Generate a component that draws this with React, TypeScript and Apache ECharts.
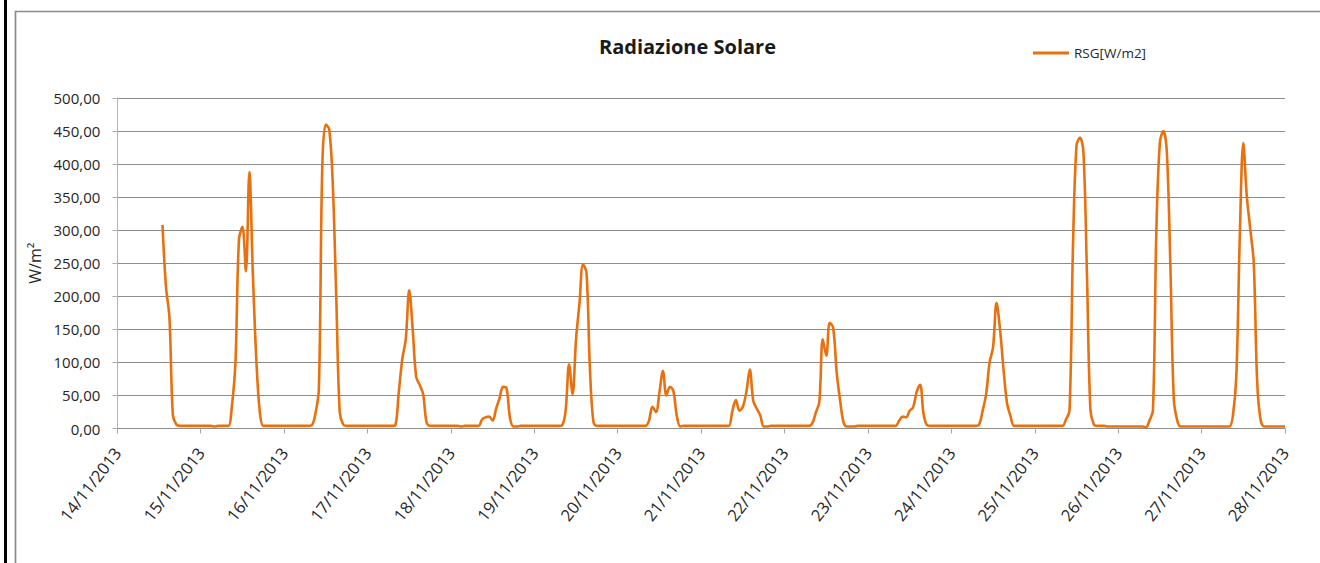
import React, { useEffect, useRef } from "react";
import * as echarts from "echarts";

// Tick labels (one per day, 00:00)
const dateLabels = [
  "14/11/2013", "15/11/2013", "16/11/2013", "17/11/2013", "18/11/2013",
  "19/11/2013", "20/11/2013", "21/11/2013", "22/11/2013", "23/11/2013",
  "24/11/2013", "25/11/2013", "26/11/2013", "27/11/2013", "28/11/2013",
];

// Hourly RSG [W/m2] values, hour 0..23 of each day (null = no data)
const rsg14 = [null, null, null, null, null, null, null, null, null, null, null, null, null,
  308, 215, 168, 20, 6, 4, 4, 4, 4, 4, 4];
const rsg15 = [4, 4, 4, 4, 3, 4, 4, 4, 4, 35, 100, 285, 305, 238, 388, 235, 105, 25, 4, 4, 4, 4, 4, 4];
const rsg16 = [4, 4, 4, 4, 4, 4, 4, 4, 5, 22, 60, 400, 460, 452, 370, 200, 25, 6, 4, 4, 4, 4, 4, 4];
const rsg17 = [4, 4, 4, 4, 4, 4, 4, 4, 5, 55, 105, 135, 209, 150, 78, 66, 52, 9, 4, 4, 4, 4, 4, 4];
const rsg18 = [4, 4, 4, 3, 4, 4, 4, 4, 4, 14, 17, 18, 12, 30, 46, 63, 61, 16, 3, 3, 4, 4, 4, 4];
const rsg19 = [4, 4, 4, 4, 4, 4, 4, 4, 5, 27, 97, 52, 135, 190, 248, 236, 90, 10, 4, 4, 4, 4, 4, 4];
const rsg20 = [4, 4, 4, 4, 4, 4, 4, 4, 4, 12, 33, 25, 55, 87, 50, 63, 57, 19, 3, 4, 4, 4, 4, 4];
const rsg21 = [4, 4, 4, 4, 4, 4, 4, 4, 4, 27, 43, 27, 33, 55, 89, 42, 30, 20, 3, 3, 4, 4, 4, 4];
const rsg22 = [4, 4, 4, 4, 4, 4, 4, 4, 8, 24, 40, 135, 110, 160, 152, 85, 42, 9, 3, 3, 3, 4, 4, 4];
const rsg23 = [4, 4, 4, 4, 4, 4, 4, 4, 4, 12, 18, 17, 27, 32, 55, 66, 22, 5, 4, 4, 4, 4, 4, 4];
const rsg24 = [4, 4, 4, 4, 4, 4, 4, 4, 6, 27, 52, 100, 123, 190, 150, 90, 39, 19, 4, 4, 4, 4, 4, 4];
const rsg25 = [4, 4, 4, 4, 4, 4, 4, 4, 4, 14, 27, 277, 428, 440, 418, 236, 29, 6, 4, 4, 4, 3, 3, 3];
const rsg26 = [3, 3, 3, 3, 3, 3, 3, 3, 2, 12, 27, 302, 433, 450, 418, 250, 45, 12, 3, 3, 3, 3, 3, 3];
const rsg27 = [3, 3, 3, 3, 3, 3, 3, 3, 3, 19, 80, 292, 432, 352, 302, 251, 70, 12, 3, 3, 3, 3, 3, 3];
const rsg28 = [3];

const days = [rsg14, rsg15, rsg16, rsg17, rsg18, rsg19, rsg20, rsg21, rsg22, rsg23, rsg24, rsg25, rsg26, rsg27, rsg28];

const seriesName = "RSG[W/m2]";
const titleText = "Radiazione Solare";
const yAxisName = "W/m\u00B2";

export default function App() {
  const ref = useRef<HTMLDivElement>(null);

  useEffect(() => {
    if (!ref.current) return;
    const chart = echarts.init(ref.current, null, { renderer: "svg" });

    const data: [number, number][] = [];
    days.forEach((arr, d) => {
      arr.forEach((v, h) => {
        if (v !== null && v !== undefined) data.push([d * 24 + h, v as number]);
      });
    });

    const fontFamily = "'Open Sans', sans-serif";

    chart.setOption({
      animation: false,
      backgroundColor: "#ffffff",
      textStyle: { fontFamily },
      title: {
        text: titleText,
        left: 594,
        top: 31,
        textStyle: { fontFamily, fontSize: 20, fontWeight: "bold", color: "#1a1a1a" },
      },
      legend: {
        data: [seriesName],
        left: 1028,
        top: 41,
        icon: "rect",
        itemWidth: 36,
        itemHeight: 3,
        textStyle: { fontFamily, fontSize: 13.5, color: "#262626" },
      },
      grid: { left: 117.3, right: 35, top: 98, bottom: 134.5, containLabel: false },
      xAxis: {
        type: "value",
        min: 0,
        max: 336,
        interval: 24,
        axisLine: { show: true, lineStyle: { color: "#8c8c8c", width: 1 } },
        axisTick: { show: true, length: 5, lineStyle: { color: "#a6a6a6" } },
        splitLine: { show: false },
        axisLabel: {
          rotate: 52,
          margin: 21,
          fontSize: 16.5,
          color: "#262626",
          fontFamily,
          showMinLabel: true,
          showMaxLabel: true,
          formatter: (v: number) => dateLabels[Math.round(v / 24)] ?? "",
        },
      },
      yAxis: {
        type: "value",
        min: 0,
        max: 500,
        interval: 50,
        name: yAxisName,
        nameLocation: "middle",
        nameGap: 68,
        nameTextStyle: { fontFamily, fontSize: 16, color: "#262626" },
        axisLine: { show: true, lineStyle: { color: "#b3b3b3" } },
        axisTick: { show: true, length: 5, lineStyle: { color: "#b3b3b3" } },
        splitLine: { show: true, lineStyle: { color: "#8c8c8c", width: 1 } },
        axisLabel: {
          margin: 17,
          fontSize: 15,
          color: "#262626",
          fontFamily,
          formatter: (v: number) => v.toFixed(2).replace(".", ","),
        },
      },
      series: [
        {
          name: seriesName,
          type: "line",
          data,
          smooth: 0.35,
          showSymbol: false,
          symbol: "none",
          lineStyle: { color: "#E8700F", width: 2.6 },
          itemStyle: { color: "#E8700F" },
        },
      ],
      graphic: [
        { type: "rect", shape: { x: 4, y: 0, width: 3, height: 563 }, style: { fill: "#000000" }, silent: true },
        {
          type: "polyline",
          shape: { points: [[15.5, 563], [15.5, 11.5], [1320, 11.5]] },
          style: { fill: "none", stroke: "#8a8a8a", lineWidth: 1.7 },
          silent: true,
        },
      ],
    });

    return () => chart.dispose();
  }, []);

  return (
    <div
      ref={ref}
      style={{ position: "absolute", left: 0, top: 0, width: 1320, height: 563, overflow: "hidden" }}
    />
  );
}
